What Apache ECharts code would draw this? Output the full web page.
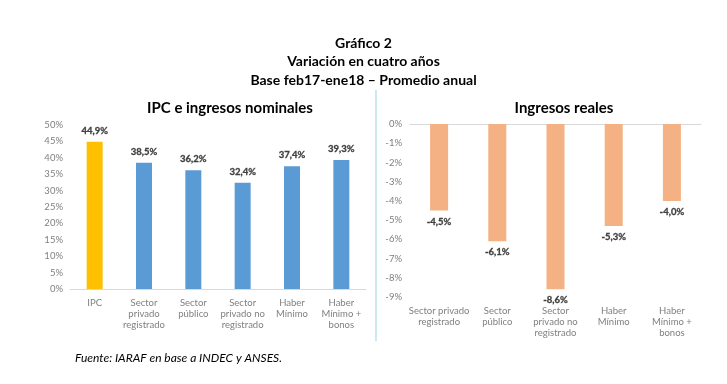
<!DOCTYPE html>
<html>
<head>
<meta charset="utf-8">
<script src="https://cdn.jsdelivr.net/npm/echarts@6/dist/echarts.min.js"></script>
<style>
html,body{margin:0;padding:0;background:#fff;}
#c{width:727px;height:384px;}
</style>
</head>
<body>
<div id="c"></div>
<script>
// Left panel: nominal variation
var nomCategories = ['IPC', 'Sector\nprivado\nregistrado', 'Sector\npúblico', 'Sector\nprivado no\nregistrado', 'Haber\nMínimo', 'Haber\nMínimo +\nbonos'];
var nomValues = [44.9, 38.5, 36.2, 32.4, 37.4, 39.3];
var nomTicks = [0, 5, 10, 15, 20, 25, 30, 35, 40, 45, 50];

// Right panel: real variation
var realCategories = ['Sector privado\nregistrado', 'Sector\npúblico', 'Sector\nprivado no\nregistrado', 'Haber\nMínimo', 'Haber\nMínimo +\nbonos'];
var realValues = [-4.5, -6.1, -8.6, -5.3, -4.0];
var realTicks = [-9, -8, -7, -6, -5, -4, -3, -2, -1, 0];

var FONT = 'Lato';
var axisGray = '#7f7f7f';
var labelDark = '#404040';

function pct(v){ return (Math.round(v*10)/10).toFixed(1).replace('.', ',') + '%'; }

var chart = echarts.init(document.getElementById('c'), null, {renderer:'canvas'});
chart.setOption({
  animation: false,
  backgroundColor: '#ffffff',
  textStyle: {fontFamily: FONT},
  title: [
    {text: 'Gráfico 2', left: 'center', top: 31, textStyle: {fontFamily: FONT, fontSize: 14, fontWeight: 'bold', color: '#000'}},
    {text: 'Variación en cuatro años', left: 'center', top: 49, textStyle: {fontFamily: FONT, fontSize: 14, fontWeight: 'bold', color: '#000'}},
    {text: 'Base feb17-ene18 – Promedio anual', left: 'center', top: 68, textStyle: {fontFamily: FONT, fontSize: 14, fontWeight: 'bold', color: '#000'}},
    {text: 'IPC e ingresos nominales', left: 225, textAlign: 'center', top: 96, textStyle: {fontFamily: FONT, fontSize: 15, fontWeight: 'bold', color: '#000'}},
    {text: 'Ingresos reales', left: 559, textAlign: 'center', top: 96, textStyle: {fontFamily: FONT, fontSize: 15, fontWeight: 'bold', color: '#000'}},
    {text: 'Fuente: IARAF en base a INDEC y ANSES.', left: 70, top: 347, textStyle: {fontFamily: FONT, fontSize: 12, fontStyle: 'italic', fontWeight: 'normal', color: '#000'}}
  ],
  graphic: [
    {type: 'line', shape: {x1: 376, y1: 90, x2: 376, y2: 341}, style: {stroke: '#a9d9e6', lineWidth: 1.2}}
  ],
  grid: [
    {left: 70, right: 361, top: 125, bottom: 95, containLabel: false},
    {left: 410, right: 26, top: 124, bottom: 87, containLabel: false}
  ],
  xAxis: [
    {type: 'category', gridIndex: 0, data: nomCategories,
     axisLine: {show: true, lineStyle: {color: '#d9d9d9'}}, axisTick: {show: false},
     axisLabel: {color: axisGray, fontSize: 9.5, lineHeight: 11, margin: 8, interval: 0, fontFamily: FONT}},
    {type: 'category', gridIndex: 1, data: realCategories, position: 'bottom',
     axisLine: {show: false, onZero: false}, axisTick: {show: false},
     axisLabel: {color: axisGray, fontSize: 9.5, lineHeight: 11, margin: 8, interval: 0, fontFamily: FONT}},
    {type: 'category', gridIndex: 1, data: realCategories, position: 'top',
     axisLine: {show: true, onZero: false, lineStyle: {color: '#d9d9d9'}}, axisTick: {show: false},
     axisLabel: {show: false}}
  ],
  yAxis: [
    {type: 'value', gridIndex: 0, min: nomTicks[0], max: nomTicks[nomTicks.length-1], interval: 5,
     axisLine: {show: false}, axisTick: {show: false}, splitLine: {show: false},
     axisLabel: {color: axisGray, fontSize: 9.5, margin: 7, fontFamily: FONT, formatter: function(v){return v + '%';}}},
    {type: 'value', gridIndex: 1, min: realTicks[0], max: realTicks[realTicks.length-1], interval: 1,
     axisLine: {show: false}, axisTick: {show: false}, splitLine: {show: false},
     axisLabel: {color: axisGray, fontSize: 9.5, margin: 8, fontFamily: FONT, formatter: function(v){return v + '%';}}}
  ],
  series: [
    {type: 'bar', xAxisIndex: 0, yAxisIndex: 0, barWidth: 16,
     data: nomValues.map(function(v, i){ return {value: v, itemStyle: {color: i === 0 ? '#ffc000' : '#5b9bd5'}}; }),
     label: {show: true, position: 'top', distance: 6, color: labelDark, fontSize: 9.5, fontWeight: 700, fontFamily: 'Lato', textBorderColor: labelDark, textBorderWidth: 0.3,
             formatter: function(p){ return pct(p.value); }}},
    {type: 'bar', xAxisIndex: 1, yAxisIndex: 1, barWidth: 18,
     data: realValues,
     itemStyle: {color: '#f4b183'},
     label: {show: true, position: 'bottom', distance: 6, color: labelDark, fontSize: 9.5, fontWeight: 700, fontFamily: 'Lato', textBorderColor: labelDark, textBorderWidth: 0.3,
             formatter: function(p){ return pct(p.value); }}}
  ]
});
</script>
</body>
</html>
